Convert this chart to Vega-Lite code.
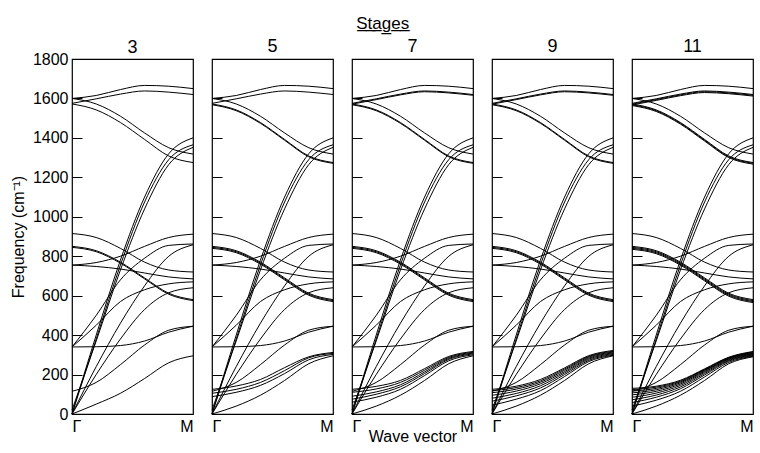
{
"$schema": "https://vega.github.io/schema/vega-lite/v6.json",
"padding": {"left": 9, "top": 14, "right": 0, "bottom": 0},
"spacing": 13,
"title": {"text": "S̲t̲a̲g̲e̲s̲", "fontSize": 17, "font": "Liberation Sans", "fontWeight": "normal", "anchor": "middle", "offset": 4, "color": "black"},
"config": {
  "font": "Liberation Sans",
  "view": {"stroke": "black", "strokeWidth": 1.2},
  "axis": {"grid": false, "domain": false, "labelFont": "Liberation Sans", "labelFontSize": 16, "labelColor": "black", "titleFont": "Liberation Sans", "titleFontSize": 16, "titleFontWeight": "normal", "titleColor": "black", "tickColor": "black"},
  "title": {"fontSize": 18, "fontWeight": "normal", "font": "Liberation Sans", "offset": 3, "color": "black"}
},
"datasets": {"curves": [
{"s":0,"c":"H1","x":0,"f":1600},{"s":0,"c":"H1","x":0.2,"f":1615},{"s":0,"c":"H1","x":0.4,"f":1645},{"s":0,"c":"H1","x":0.6,"f":1666},{"s":0,"c":"H1","x":0.8,"f":1662},{"s":0,"c":"H1","x":1,"f":1650},
{"s":0,"c":"H2","x":0,"f":1575},{"s":0,"c":"H2","x":0.2,"f":1598},{"s":0,"c":"H2","x":0.4,"f":1622},{"s":0,"c":"H2","x":0.6,"f":1638},{"s":0,"c":"H2","x":0.8,"f":1632},{"s":0,"c":"H2","x":1,"f":1620},
{"s":0,"c":"D1","x":0,"f":1600},{"s":0,"c":"D1","x":0.2,"f":1572},{"s":0,"c":"D1","x":0.4,"f":1510},{"s":0,"c":"D1","x":0.6,"f":1425},{"s":0,"c":"D1","x":0.8,"f":1350},{"s":0,"c":"D1","x":1,"f":1318},
{"s":0,"c":"D2","x":0,"f":1572},{"s":0,"c":"D2","x":0.2,"f":1542},{"s":0,"c":"D2","x":0.4,"f":1478},{"s":0,"c":"D2","x":0.6,"f":1392},{"s":0,"c":"D2","x":0.8,"f":1308},{"s":0,"c":"D2","x":1,"f":1275},
{"s":0,"c":"L1","x":0,"f":0},{"s":0,"c":"L1","x":0.2,"f":400},{"s":0,"c":"L1","x":0.4,"f":780},{"s":0,"c":"L1","x":0.6,"f":1100},{"s":0,"c":"L1","x":0.8,"f":1320},{"s":0,"c":"L1","x":1,"f":1400},
{"s":0,"c":"L2","x":0,"f":0},{"s":0,"c":"L2","x":0.2,"f":380},{"s":0,"c":"L2","x":0.4,"f":755},{"s":0,"c":"L2","x":0.6,"f":1075},{"s":0,"c":"L2","x":0.8,"f":1290},{"s":0,"c":"L2","x":1,"f":1365},
{"s":0,"c":"L3","x":0,"f":20},{"s":0,"c":"L3","x":0.2,"f":370},{"s":0,"c":"L3","x":0.4,"f":730},{"s":0,"c":"L3","x":0.6,"f":1040},{"s":0,"c":"L3","x":0.8,"f":1265},{"s":0,"c":"L3","x":1,"f":1352},
{"s":0,"c":"ZO","x":0,"f":850},{"s":0,"c":"ZO","x":0.2,"f":828},{"s":0,"c":"ZO","x":0.4,"f":770},{"s":0,"c":"ZO","x":0.6,"f":690},{"s":0,"c":"ZO","x":0.8,"f":612},{"s":0,"c":"ZO","x":1,"f":580},
{"s":0,"c":"ZOb","x":0,"f":845},{"s":0,"c":"ZOb","x":0.2,"f":823},{"s":0,"c":"ZOb","x":0.4,"f":765},{"s":0,"c":"ZOb","x":0.6,"f":685},{"s":0,"c":"ZOb","x":0.8,"f":607},{"s":0,"c":"ZOb","x":1,"f":575},
{"s":0,"c":"TT","x":0,"f":915},{"s":0,"c":"TT","x":0.2,"f":895},{"s":0,"c":"TT","x":0.4,"f":840},{"s":0,"c":"TT","x":0.6,"f":770},{"s":0,"c":"TT","x":0.8,"f":730},{"s":0,"c":"TT","x":1,"f":720},
{"s":0,"c":"Ia","x":0,"f":755},{"s":0,"c":"Ia","x":0.2,"f":748},{"s":0,"c":"Ia","x":0.4,"f":735},{"s":0,"c":"Ia","x":0.6,"f":715},{"s":0,"c":"Ia","x":0.8,"f":695},{"s":0,"c":"Ia","x":1,"f":685},
{"s":0,"c":"Ib","x":0,"f":755},{"s":0,"c":"Ib","x":0.2,"f":768},{"s":0,"c":"Ib","x":0.4,"f":800},{"s":0,"c":"Ib","x":0.6,"f":850},{"s":0,"c":"Ib","x":0.8,"f":895},{"s":0,"c":"Ib","x":1,"f":912},
{"s":0,"c":"TA1","x":0,"f":0},{"s":0,"c":"TA1","x":0.2,"f":240},{"s":0,"c":"TA1","x":0.4,"f":460},{"s":0,"c":"TA1","x":0.6,"f":650},{"s":0,"c":"TA1","x":0.8,"f":800},{"s":0,"c":"TA1","x":1,"f":858},
{"s":0,"c":"TA2","x":0,"f":0},{"s":0,"c":"TA2","x":0.2,"f":200},{"s":0,"c":"TA2","x":0.4,"f":380},{"s":0,"c":"TA2","x":0.6,"f":530},{"s":0,"c":"TA2","x":0.8,"f":615},{"s":0,"c":"TA2","x":1,"f":640},
{"s":0,"c":"F1","x":0,"f":340},{"s":0,"c":"F1","x":0.2,"f":341},{"s":0,"c":"F1","x":0.4,"f":347},{"s":0,"c":"F1","x":0.6,"f":370},{"s":0,"c":"F1","x":0.8,"f":415},{"s":0,"c":"F1","x":1,"f":445},
{"s":0,"c":"F2","x":0,"f":340},{"s":0,"c":"F2","x":0.2,"f":450},{"s":0,"c":"F2","x":0.4,"f":570},{"s":0,"c":"F2","x":0.6,"f":630},{"s":0,"c":"F2","x":0.8,"f":660},{"s":0,"c":"F2","x":1,"f":670},
{"s":0,"c":"F3","x":0,"f":340},{"s":0,"c":"F3","x":0.2,"f":500},{"s":0,"c":"F3","x":0.4,"f":680},{"s":0,"c":"F3","x":0.6,"f":790},{"s":0,"c":"F3","x":0.8,"f":855},{"s":0,"c":"F3","x":1,"f":862},
{"s":0,"c":"G1","x":0,"f":115},{"s":0,"c":"G1","x":0.2,"f":160},{"s":0,"c":"G1","x":0.4,"f":250},{"s":0,"c":"G1","x":0.6,"f":350},{"s":0,"c":"G1","x":0.8,"f":425},{"s":0,"c":"G1","x":1,"f":445},

{"s":3,"c":"Z1","x":0,"f":0},{"s":3,"c":"Z1","x":0.2,"f":50},{"s":3,"c":"Z1","x":0.4,"f":105},{"s":3,"c":"Z1","x":0.6,"f":180},{"s":3,"c":"Z1","x":0.8,"f":260},{"s":3,"c":"Z1","x":1,"f":295},

{"s":5,"c":"Z1","x":0,"f":0},{"s":5,"c":"Z1","x":0.2,"f":40},{"s":5,"c":"Z1","x":0.4,"f":95},{"s":5,"c":"Z1","x":0.6,"f":170},{"s":5,"c":"Z1","x":0.8,"f":255},{"s":5,"c":"Z1","x":1,"f":295},
{"s":5,"c":"Z2","x":0,"f":88},{"s":5,"c":"Z2","x":0.2,"f":110},{"s":5,"c":"Z2","x":0.4,"f":145},{"s":5,"c":"Z2","x":0.6,"f":205},{"s":5,"c":"Z2","x":0.8,"f":275},{"s":5,"c":"Z2","x":1,"f":302},
{"s":5,"c":"Z3","x":0,"f":105},{"s":5,"c":"Z3","x":0.2,"f":125},{"s":5,"c":"Z3","x":0.4,"f":160},{"s":5,"c":"Z3","x":0.6,"f":220},{"s":5,"c":"Z3","x":0.8,"f":285},{"s":5,"c":"Z3","x":1,"f":307},
{"s":5,"c":"Z4","x":0,"f":125},{"s":5,"c":"Z4","x":0.2,"f":142},{"s":5,"c":"Z4","x":0.4,"f":175},{"s":5,"c":"Z4","x":0.6,"f":235},{"s":5,"c":"Z4","x":0.8,"f":290},{"s":5,"c":"Z4","x":1,"f":312},
{"s":5,"c":"ZOc","x":0,"f":840},{"s":5,"c":"ZOc","x":0.2,"f":818},{"s":5,"c":"ZOc","x":0.4,"f":760},{"s":5,"c":"ZOc","x":0.6,"f":680},{"s":5,"c":"ZOc","x":0.8,"f":602},{"s":5,"c":"ZOc","x":1,"f":570},
{"s":5,"c":"D2b","x":0,"f":1568},{"s":5,"c":"D2b","x":0.2,"f":1538},{"s":5,"c":"D2b","x":0.4,"f":1474},{"s":5,"c":"D2b","x":0.6,"f":1388},{"s":5,"c":"D2b","x":0.8,"f":1304},{"s":5,"c":"D2b","x":1,"f":1271},

{"s":7,"c":"Z1","x":0,"f":0},{"s":7,"c":"Z1","x":0.2,"f":40},{"s":7,"c":"Z1","x":0.4,"f":95},{"s":7,"c":"Z1","x":0.6,"f":170},{"s":7,"c":"Z1","x":0.8,"f":255},{"s":7,"c":"Z1","x":1,"f":295},
{"s":7,"c":"Z2","x":0,"f":60},{"s":7,"c":"Z2","x":0.2,"f":85},{"s":7,"c":"Z2","x":0.4,"f":125},{"s":7,"c":"Z2","x":0.6,"f":195},{"s":7,"c":"Z2","x":0.8,"f":270},{"s":7,"c":"Z2","x":1,"f":300},
{"s":7,"c":"Z3","x":0,"f":75},{"s":7,"c":"Z3","x":0.2,"f":100},{"s":7,"c":"Z3","x":0.4,"f":138},{"s":7,"c":"Z3","x":0.6,"f":205},{"s":7,"c":"Z3","x":0.8,"f":277},{"s":7,"c":"Z3","x":1,"f":305},
{"s":7,"c":"Z4","x":0,"f":90},{"s":7,"c":"Z4","x":0.2,"f":112},{"s":7,"c":"Z4","x":0.4,"f":148},{"s":7,"c":"Z4","x":0.6,"f":213},{"s":7,"c":"Z4","x":0.8,"f":282},{"s":7,"c":"Z4","x":1,"f":309},
{"s":7,"c":"Z5","x":0,"f":110},{"s":7,"c":"Z5","x":0.2,"f":127},{"s":7,"c":"Z5","x":0.4,"f":160},{"s":7,"c":"Z5","x":0.6,"f":222},{"s":7,"c":"Z5","x":0.8,"f":287},{"s":7,"c":"Z5","x":1,"f":313},
{"s":7,"c":"Z6","x":0,"f":125},{"s":7,"c":"Z6","x":0.2,"f":140},{"s":7,"c":"Z6","x":0.4,"f":170},{"s":7,"c":"Z6","x":0.6,"f":230},{"s":7,"c":"Z6","x":0.8,"f":292},{"s":7,"c":"Z6","x":1,"f":317},
{"s":7,"c":"ZOc","x":0,"f":840},{"s":7,"c":"ZOc","x":0.2,"f":818},{"s":7,"c":"ZOc","x":0.4,"f":760},{"s":7,"c":"ZOc","x":0.6,"f":680},{"s":7,"c":"ZOc","x":0.8,"f":602},{"s":7,"c":"ZOc","x":1,"f":570},
{"s":7,"c":"D2b","x":0,"f":1568},{"s":7,"c":"D2b","x":0.2,"f":1538},{"s":7,"c":"D2b","x":0.4,"f":1474},{"s":7,"c":"D2b","x":0.6,"f":1388},{"s":7,"c":"D2b","x":0.8,"f":1304},{"s":7,"c":"D2b","x":1,"f":1271},
{"s":7,"c":"H2b","x":0,"f":1571},{"s":7,"c":"H2b","x":0.2,"f":1594},{"s":7,"c":"H2b","x":0.4,"f":1618},{"s":7,"c":"H2b","x":0.6,"f":1634},{"s":7,"c":"H2b","x":0.8,"f":1628},{"s":7,"c":"H2b","x":1,"f":1616},

{"s":9,"c":"Z1","x":0,"f":0},{"s":9,"c":"Z1","x":0.2,"f":40},{"s":9,"c":"Z1","x":0.4,"f":95},{"s":9,"c":"Z1","x":0.6,"f":170},{"s":9,"c":"Z1","x":0.8,"f":255},{"s":9,"c":"Z1","x":1,"f":295},
{"s":9,"c":"Z2","x":0,"f":45},{"s":9,"c":"Z2","x":0.2,"f":75},{"s":9,"c":"Z2","x":0.4,"f":118},{"s":9,"c":"Z2","x":0.6,"f":190},{"s":9,"c":"Z2","x":0.8,"f":266},{"s":9,"c":"Z2","x":1,"f":298},
{"s":9,"c":"Z3","x":0,"f":65},{"s":9,"c":"Z3","x":0.2,"f":92},{"s":9,"c":"Z3","x":0.4,"f":132},{"s":9,"c":"Z3","x":0.6,"f":200},{"s":9,"c":"Z3","x":0.8,"f":272},{"s":9,"c":"Z3","x":1,"f":302},
{"s":9,"c":"Z4","x":0,"f":80},{"s":9,"c":"Z4","x":0.2,"f":104},{"s":9,"c":"Z4","x":0.4,"f":143},{"s":9,"c":"Z4","x":0.6,"f":208},{"s":9,"c":"Z4","x":0.8,"f":278},{"s":9,"c":"Z4","x":1,"f":306},
{"s":9,"c":"Z5","x":0,"f":95},{"s":9,"c":"Z5","x":0.2,"f":116},{"s":9,"c":"Z5","x":0.4,"f":153},{"s":9,"c":"Z5","x":0.6,"f":215},{"s":9,"c":"Z5","x":0.8,"f":283},{"s":9,"c":"Z5","x":1,"f":310},
{"s":9,"c":"Z6","x":0,"f":108},{"s":9,"c":"Z6","x":0.2,"f":126},{"s":9,"c":"Z6","x":0.4,"f":161},{"s":9,"c":"Z6","x":0.6,"f":222},{"s":9,"c":"Z6","x":0.8,"f":288},{"s":9,"c":"Z6","x":1,"f":314},
{"s":9,"c":"Z7","x":0,"f":118},{"s":9,"c":"Z7","x":0.2,"f":134},{"s":9,"c":"Z7","x":0.4,"f":168},{"s":9,"c":"Z7","x":0.6,"f":228},{"s":9,"c":"Z7","x":0.8,"f":292},{"s":9,"c":"Z7","x":1,"f":318},
{"s":9,"c":"Z8","x":0,"f":125},{"s":9,"c":"Z8","x":0.2,"f":141},{"s":9,"c":"Z8","x":0.4,"f":175},{"s":9,"c":"Z8","x":0.6,"f":234},{"s":9,"c":"Z8","x":0.8,"f":296},{"s":9,"c":"Z8","x":1,"f":322},
{"s":9,"c":"ZOc","x":0,"f":840},{"s":9,"c":"ZOc","x":0.2,"f":818},{"s":9,"c":"ZOc","x":0.4,"f":760},{"s":9,"c":"ZOc","x":0.6,"f":680},{"s":9,"c":"ZOc","x":0.8,"f":602},{"s":9,"c":"ZOc","x":1,"f":570},
{"s":9,"c":"D2b","x":0,"f":1568},{"s":9,"c":"D2b","x":0.2,"f":1538},{"s":9,"c":"D2b","x":0.4,"f":1474},{"s":9,"c":"D2b","x":0.6,"f":1388},{"s":9,"c":"D2b","x":0.8,"f":1304},{"s":9,"c":"D2b","x":1,"f":1271},
{"s":9,"c":"H2b","x":0,"f":1571},{"s":9,"c":"H2b","x":0.2,"f":1594},{"s":9,"c":"H2b","x":0.4,"f":1618},{"s":9,"c":"H2b","x":0.6,"f":1634},{"s":9,"c":"H2b","x":0.8,"f":1628},{"s":9,"c":"H2b","x":1,"f":1616},

{"s":11,"c":"Z1","x":0,"f":0},{"s":11,"c":"Z1","x":0.2,"f":40},{"s":11,"c":"Z1","x":0.4,"f":95},{"s":11,"c":"Z1","x":0.6,"f":170},{"s":11,"c":"Z1","x":0.8,"f":255},{"s":11,"c":"Z1","x":1,"f":290},
{"s":11,"c":"Z2","x":0,"f":40},{"s":11,"c":"Z2","x":0.2,"f":70},{"s":11,"c":"Z2","x":0.4,"f":115},{"s":11,"c":"Z2","x":0.6,"f":188},{"s":11,"c":"Z2","x":0.8,"f":262},{"s":11,"c":"Z2","x":1,"f":293},
{"s":11,"c":"Z3","x":0,"f":58},{"s":11,"c":"Z3","x":0.2,"f":85},{"s":11,"c":"Z3","x":0.4,"f":128},{"s":11,"c":"Z3","x":0.6,"f":198},{"s":11,"c":"Z3","x":0.8,"f":268},{"s":11,"c":"Z3","x":1,"f":296},
{"s":11,"c":"Z4","x":0,"f":72},{"s":11,"c":"Z4","x":0.2,"f":96},{"s":11,"c":"Z4","x":0.4,"f":137},{"s":11,"c":"Z4","x":0.6,"f":205},{"s":11,"c":"Z4","x":0.8,"f":272},{"s":11,"c":"Z4","x":1,"f":299},
{"s":11,"c":"Z5","x":0,"f":85},{"s":11,"c":"Z5","x":0.2,"f":106},{"s":11,"c":"Z5","x":0.4,"f":145},{"s":11,"c":"Z5","x":0.6,"f":211},{"s":11,"c":"Z5","x":0.8,"f":276},{"s":11,"c":"Z5","x":1,"f":302},
{"s":11,"c":"Z6","x":0,"f":97},{"s":11,"c":"Z6","x":0.2,"f":115},{"s":11,"c":"Z6","x":0.4,"f":152},{"s":11,"c":"Z6","x":0.6,"f":216},{"s":11,"c":"Z6","x":0.8,"f":279},{"s":11,"c":"Z6","x":1,"f":305},
{"s":11,"c":"Z7","x":0,"f":107},{"s":11,"c":"Z7","x":0.2,"f":123},{"s":11,"c":"Z7","x":0.4,"f":158},{"s":11,"c":"Z7","x":0.6,"f":220},{"s":11,"c":"Z7","x":0.8,"f":282},{"s":11,"c":"Z7","x":1,"f":308},
{"s":11,"c":"Z8","x":0,"f":116},{"s":11,"c":"Z8","x":0.2,"f":130},{"s":11,"c":"Z8","x":0.4,"f":163},{"s":11,"c":"Z8","x":0.6,"f":223},{"s":11,"c":"Z8","x":0.8,"f":284},{"s":11,"c":"Z8","x":1,"f":311},
{"s":11,"c":"Z9","x":0,"f":124},{"s":11,"c":"Z9","x":0.2,"f":136},{"s":11,"c":"Z9","x":0.4,"f":167},{"s":11,"c":"Z9","x":0.6,"f":226},{"s":11,"c":"Z9","x":0.8,"f":286},{"s":11,"c":"Z9","x":1,"f":314},
{"s":11,"c":"Z10","x":0,"f":130},{"s":11,"c":"Z10","x":0.2,"f":141},{"s":11,"c":"Z10","x":0.4,"f":171},{"s":11,"c":"Z10","x":0.6,"f":229},{"s":11,"c":"Z10","x":0.8,"f":288},{"s":11,"c":"Z10","x":1,"f":317},
{"s":11,"c":"ZOc","x":0,"f":840},{"s":11,"c":"ZOc","x":0.2,"f":818},{"s":11,"c":"ZOc","x":0.4,"f":760},{"s":11,"c":"ZOc","x":0.6,"f":680},{"s":11,"c":"ZOc","x":0.8,"f":602},{"s":11,"c":"ZOc","x":1,"f":570},
{"s":11,"c":"ZOd","x":0,"f":835},{"s":11,"c":"ZOd","x":0.2,"f":813},{"s":11,"c":"ZOd","x":0.4,"f":755},{"s":11,"c":"ZOd","x":0.6,"f":675},{"s":11,"c":"ZOd","x":0.8,"f":597},{"s":11,"c":"ZOd","x":1,"f":565},
{"s":11,"c":"D2b","x":0,"f":1568},{"s":11,"c":"D2b","x":0.2,"f":1538},{"s":11,"c":"D2b","x":0.4,"f":1474},{"s":11,"c":"D2b","x":0.6,"f":1388},{"s":11,"c":"D2b","x":0.8,"f":1304},{"s":11,"c":"D2b","x":1,"f":1271},
{"s":11,"c":"D2c","x":0,"f":1564},{"s":11,"c":"D2c","x":0.2,"f":1534},{"s":11,"c":"D2c","x":0.4,"f":1470},{"s":11,"c":"D2c","x":0.6,"f":1384},{"s":11,"c":"D2c","x":0.8,"f":1300},{"s":11,"c":"D2c","x":1,"f":1267},
{"s":11,"c":"H2b","x":0,"f":1571},{"s":11,"c":"H2b","x":0.2,"f":1594},{"s":11,"c":"H2b","x":0.4,"f":1618},{"s":11,"c":"H2b","x":0.6,"f":1634},{"s":11,"c":"H2b","x":0.8,"f":1628},{"s":11,"c":"H2b","x":1,"f":1616},
{"s":11,"c":"H2c","x":0,"f":1567},{"s":11,"c":"H2c","x":0.2,"f":1590},{"s":11,"c":"H2c","x":0.4,"f":1614},{"s":11,"c":"H2c","x":0.6,"f":1630},{"s":11,"c":"H2c","x":0.8,"f":1624},{"s":11,"c":"H2c","x":1,"f":1612}
]},
"hconcat": [
{"title": {"text": "3", "offset": -6}, "width": 121, "height": 355, "data": {"name": "curves"},
 "transform": [{"filter": "datum.s == 0 || datum.s == 3"}],
 "mark": {"type": "line", "interpolate": "monotone", "color": "black", "strokeWidth": 1},
 "encoding": {
  "x": {"field": "x", "type": "quantitative", "scale": {"domain": [0, 1], "nice": false}, "axis": {"values": [0, 1], "ticks": false, "labelFlush": true, "labelExpr": "datum.value == 0 ? 'Γ' : 'M'", "title": null, "labelPadding": 4}},
  "y": {"field": "f", "type": "quantitative", "scale": {"domain": [0, 1800], "nice": false}, "axis": {"values": [0,200,400,600,800,1000,1200,1400,1600,1800], "format": "d", "tickSize": -10, "labelPadding": 14, "title": "Frequency (cm⁻¹)", "titlePadding": 6}},
  "detail": {"field": "c"}}},
{"title": "5", "width": 121, "height": 355, "data": {"name": "curves"},
 "transform": [{"filter": "datum.s == 0 || datum.s == 5"}],
 "mark": {"type": "line", "interpolate": "monotone", "color": "black", "strokeWidth": 1},
 "encoding": {
  "x": {"field": "x", "type": "quantitative", "scale": {"domain": [0, 1], "nice": false}, "axis": {"values": [0, 1], "ticks": false, "labelFlush": true, "labelExpr": "datum.value == 0 ? 'Γ' : 'M'", "title": null, "labelPadding": 4}},
  "y": {"field": "f", "type": "quantitative", "scale": {"domain": [0, 1800], "nice": false}, "axis": {"values": [0,200,400,600,800,1000,1200,1400,1600,1800], "tickSize": -10, "labels": false, "title": null}},
  "detail": {"field": "c"}}},
{"title": "7", "width": 121, "height": 355, "data": {"name": "curves"},
 "transform": [{"filter": "datum.s == 0 || datum.s == 7"}],
 "mark": {"type": "line", "interpolate": "monotone", "color": "black", "strokeWidth": 1},
 "encoding": {
  "x": {"field": "x", "type": "quantitative", "scale": {"domain": [0, 1], "nice": false}, "axis": {"values": [0, 1], "ticks": false, "labelFlush": true, "labelExpr": "datum.value == 0 ? 'Γ' : 'M'", "title": "Wave vector", "labelPadding": 4, "titlePadding": -6}},
  "y": {"field": "f", "type": "quantitative", "scale": {"domain": [0, 1800], "nice": false}, "axis": {"values": [0,200,400,600,800,1000,1200,1400,1600,1800], "tickSize": -10, "labels": false, "title": null}},
  "detail": {"field": "c"}}},
{"title": "9", "width": 121, "height": 355, "data": {"name": "curves"},
 "transform": [{"filter": "datum.s == 0 || datum.s == 9"}],
 "mark": {"type": "line", "interpolate": "monotone", "color": "black", "strokeWidth": 1},
 "encoding": {
  "x": {"field": "x", "type": "quantitative", "scale": {"domain": [0, 1], "nice": false}, "axis": {"values": [0, 1], "ticks": false, "labelFlush": true, "labelExpr": "datum.value == 0 ? 'Γ' : 'M'", "title": null, "labelPadding": 4}},
  "y": {"field": "f", "type": "quantitative", "scale": {"domain": [0, 1800], "nice": false}, "axis": {"values": [0,200,400,600,800,1000,1200,1400,1600,1800], "tickSize": -10, "labels": false, "title": null}},
  "detail": {"field": "c"}}},
{"title": "11", "width": 121, "height": 355, "data": {"name": "curves"},
 "transform": [{"filter": "datum.s == 0 || datum.s == 11"}],
 "mark": {"type": "line", "interpolate": "monotone", "color": "black", "strokeWidth": 1},
 "encoding": {
  "x": {"field": "x", "type": "quantitative", "scale": {"domain": [0, 1], "nice": false}, "axis": {"values": [0, 1], "ticks": false, "labelFlush": true, "labelExpr": "datum.value == 0 ? 'Γ' : 'M'", "title": null, "labelPadding": 4}},
  "y": {"field": "f", "type": "quantitative", "scale": {"domain": [0, 1800], "nice": false}, "axis": {"values": [0,200,400,600,800,1000,1200,1400,1600,1800], "tickSize": -10, "labels": false, "title": null}},
  "detail": {"field": "c"}}}
]
}
